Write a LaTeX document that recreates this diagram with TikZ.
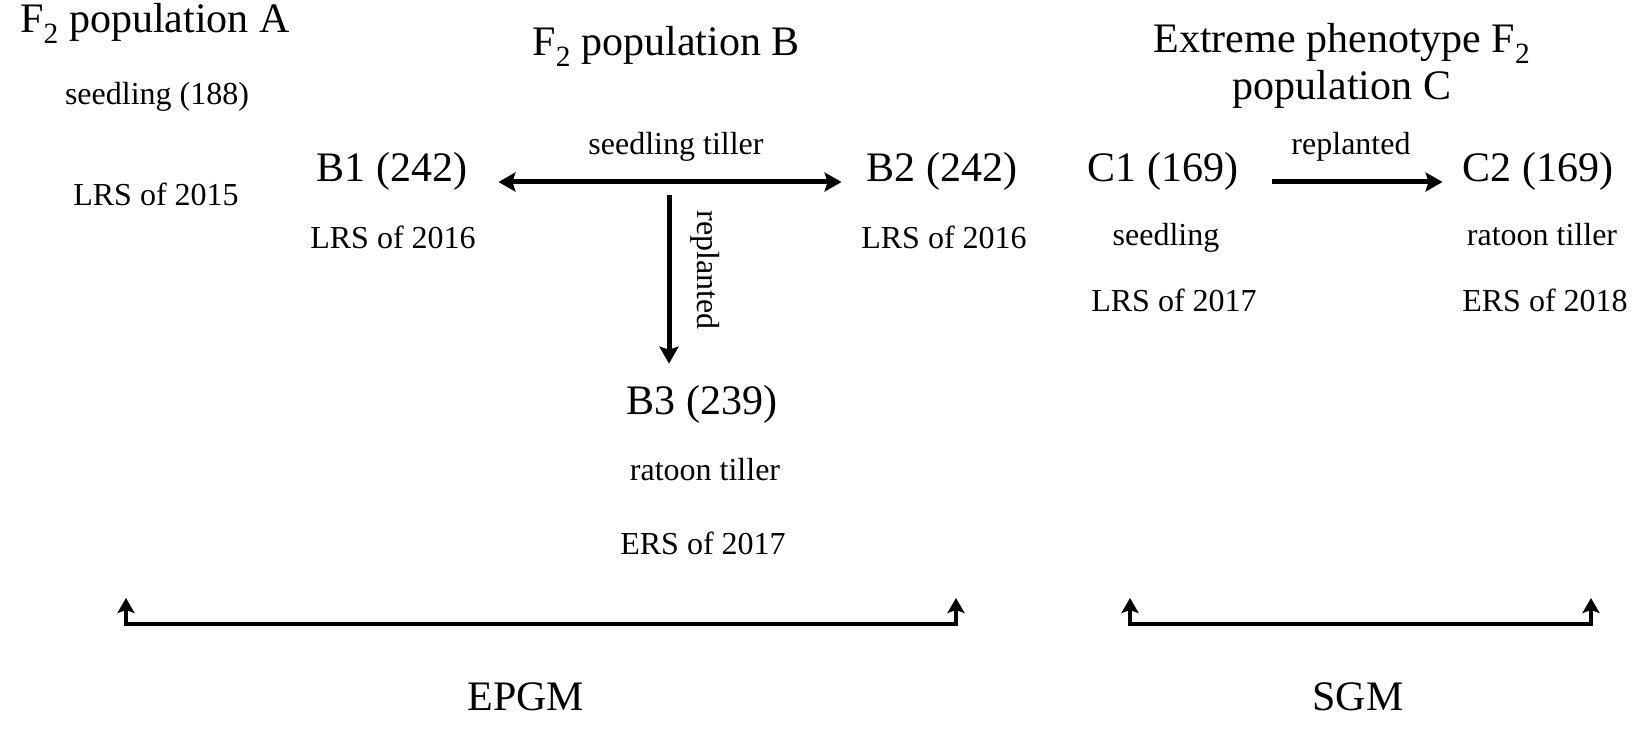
\documentclass[tikz,border=0pt]{standalone}
\usepackage{fontspec}
\setmainfont{Liberation Serif}
\usetikzlibrary{arrows.meta}
\begin{document}
\begin{tikzpicture}[x=1pt,y=-1pt,
  lbl/.style={anchor=base,inner sep=0pt,font=\fontsize{42}{47}\selectfont},
  head/.style={anchor=base,inner sep=0pt,font=\fontsize{42}{47}\selectfont},
  small/.style={anchor=base,inner sep=0pt,font=\fontsize{32}{38}\selectfont},
  arr/.style={line width=5pt,-{Stealth[length=17pt,width=19pt,inset=3pt]}},
  dblarr/.style={line width=5pt,{Stealth[length=17pt,width=19pt,inset=3pt]}-{Stealth[length=17pt,width=19pt,inset=3pt]}},
  brk/.style={line width=4.5pt,line join=miter,{Stealth[length=15pt,width=17pt,inset=3pt]}-{Stealth[length=15pt,width=17pt,inset=3pt]}}]
\useasboundingbox[fill=white] (0,0) rectangle (1644,730);
% population A
\node[head] (popA) at (155,33) {F\textsubscript{2} population A};
\node[small] (A1) at (157,105) {seedling (188)};
\node[small] (A2) at (156,206) {LRS of 2015};
% population B
\node[head] (popB) at (666,56) {F\textsubscript{2} population B};
\node[lbl] (B1) at (392,182) {B1 (242)};
\node[small] (B1y) at (393,248) {LRS of 2016};
\node[lbl] (B2) at (942,182) {B2 (242)};
\node[small] (B2y) at (944,248) {LRS of 2016};
\node[small] (st) at (676,155) {seedling tiller};
\node[lbl] (B3) at (702,414) {B3 (239)};
\node[small] (B3a) at (705,480) {ratoon tiller};
\node[small] (B3y) at (703,554) {ERS of 2017};
\node[small,rotate=-90,anchor=center] (repv) at (705,270) {replanted};
% population C
\node[head,align=center] (popC) at (1342,100) {Extreme phenotype F\textsubscript{2}\\population C};
\node[lbl] (C1) at (1163,182) {C1 (169)};
\node[lbl] (C2) at (1538,182) {C2 (169)};
\node[small] (rep) at (1351,155) {replanted};
\node[small] (C1a) at (1166,246) {seedling};
\node[small] (C1y) at (1174,311) {LRS of 2017};
\node[small] (C2a) at (1542,246) {ratoon tiller};
\node[small] (C2y) at (1545,311) {ERS of 2018};
% bottom labels
\node[lbl] (epgm) at (526,710) {EPGM};
\node[lbl] (sgm) at (1358,710) {SGM};
% connectors
\draw[dblarr] ([xshift=31]B1.base east) -- ([xshift=-25]B2.base west);
\coordinate (vt) at (669,195);
\draw[arr,shorten >=21pt] (vt) -- (vt |- B3.north);
\draw[arr] ([xshift=34]C1.base east) -- ([xshift=-20]C2.base west);
% brackets
\coordinate (e1) at (126,598); \coordinate (e2) at (956,598);
\draw[brk] (e1) -- ++(0,26) -| (e2);
\coordinate (s1) at (1130,598); \coordinate (s2) at (1591,598);
\draw[brk] (s1) -- ++(0,26) -| (s2);
\end{tikzpicture}
\end{document}
